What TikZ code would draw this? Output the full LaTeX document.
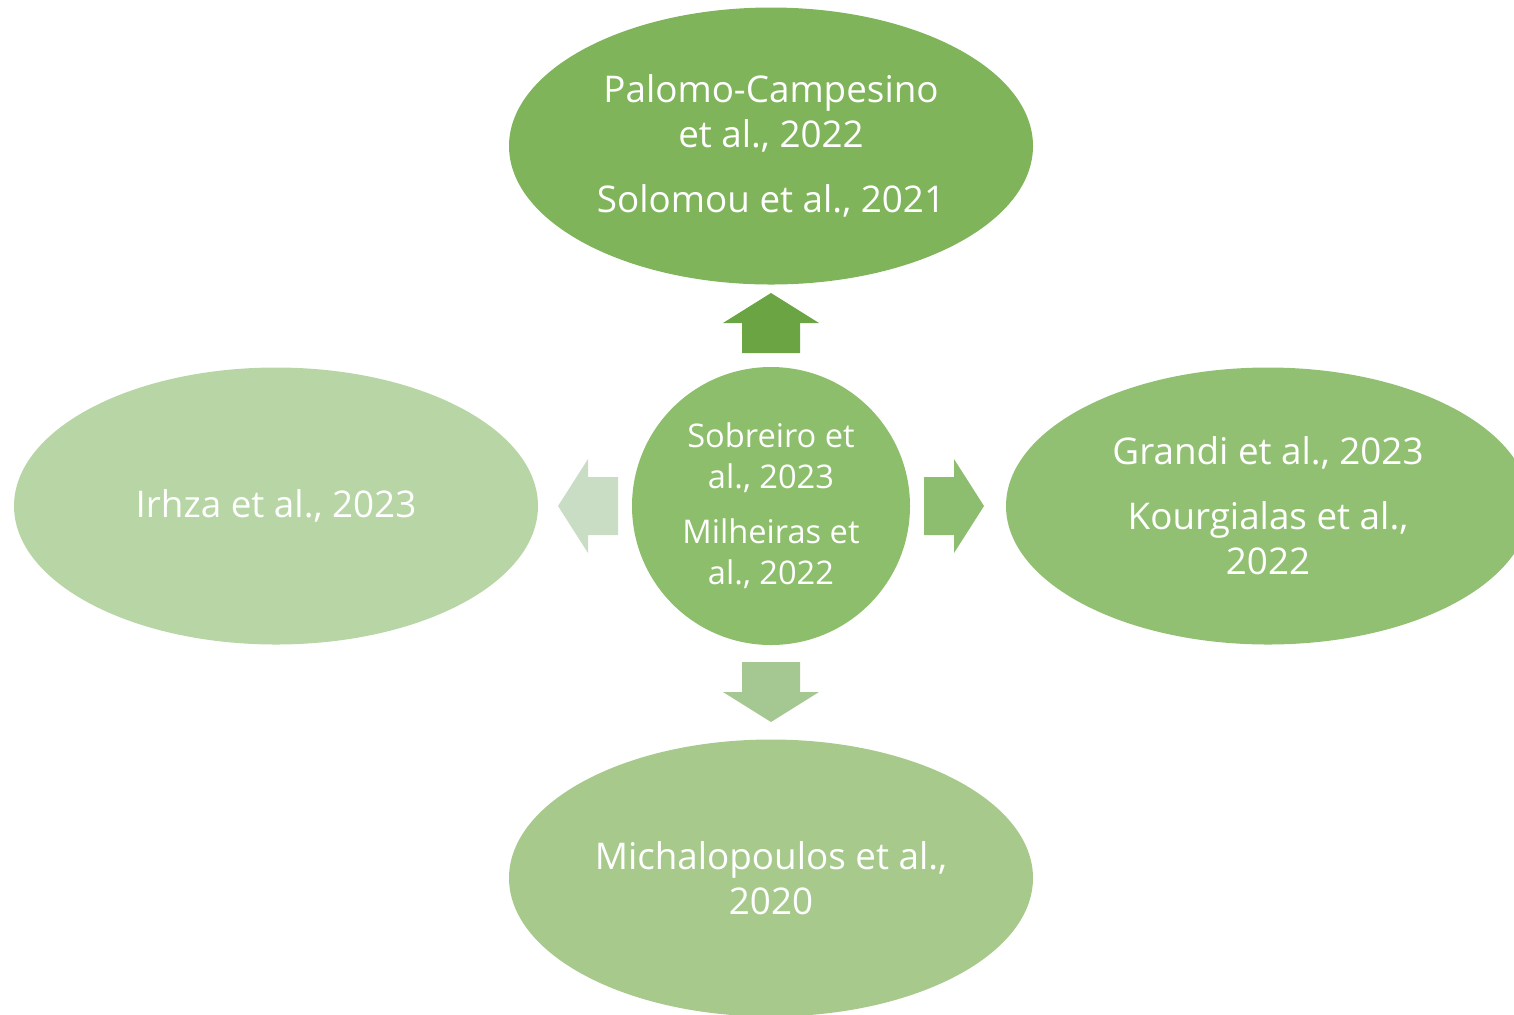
\documentclass[tikz,border=0pt]{standalone}
\usepackage{fontspec}
\setmainfont{Open Sans}
\usetikzlibrary{shapes.geometric}
\definecolor{cTop}{HTML}{7FB45A}
\definecolor{cMid}{HTML}{8DBE6C}
\definecolor{cRight}{HTML}{92C072}
\definecolor{cLeft}{HTML}{B8D6A5}
\definecolor{cBot}{HTML}{A7CA8C}
\definecolor{aUp}{HTML}{6AA443}
\definecolor{aRight}{HTML}{8DBD6E}
\definecolor{aDown}{HTML}{A5C893}
\definecolor{aLeft}{HTML}{C9DDC4}
\tikzset{
  bigell/.style={ellipse, minimum width=262pt, minimum height=138.5pt, inner sep=0pt,
    text=white, align=center, font=\fontsize{18.4}{22.5}\selectfont},
  midcirc/.style={circle, minimum size=139pt, inner sep=0pt,
    text=white, align=center, font=\fontsize{16.3}{20.5}\selectfont},
}
\begin{document}
\begin{tikzpicture}[x=0.5pt,y=-0.5pt]
\useasboundingbox (0,0) rectangle (1514,1014);
\clip (0,0) rectangle (1514,1014);
\node[bigell, fill=cTop] (top) at (771,146) {Palomo-Campesino\\et al., 2022\\[10pt]Solomou et al., 2021};
\node[bigell, fill=cLeft] (left) at (276,506) {Irhza et al., 2023};
\node[bigell, fill=cRight] (right) at (1268,506) {Grandi et al., 2023\\[10pt]Kourgialas et al.,\\2022};
\node[bigell, fill=cBot] (bot) at (771,878) {Michalopoulos et al.,\\2020};
\node[midcirc, fill=cMid] (mid) at (771,506) {Sobreiro et\\al., 2023\\[7pt]Milheiras et\\al., 2022};
% block arrows
\fill[aUp] (742,353) -- (742,323) -- (723,323) -- (771,293) -- (819,323) -- (800,323) -- (800,353) -- cycle;
\fill[aDown] (742,662) -- (742,692) -- (723,692) -- (771,722) -- (819,692) -- (800,692) -- (800,662) -- cycle;
\fill[aRight] (924,477) -- (954,477) -- (954,459) -- (984,506) -- (954,553) -- (954,535) -- (924,535) -- cycle;
\fill[aLeft] (618,477) -- (588,477) -- (588,459) -- (558,506) -- (588,553) -- (588,535) -- (618,535) -- cycle;
\end{tikzpicture}
\end{document}
